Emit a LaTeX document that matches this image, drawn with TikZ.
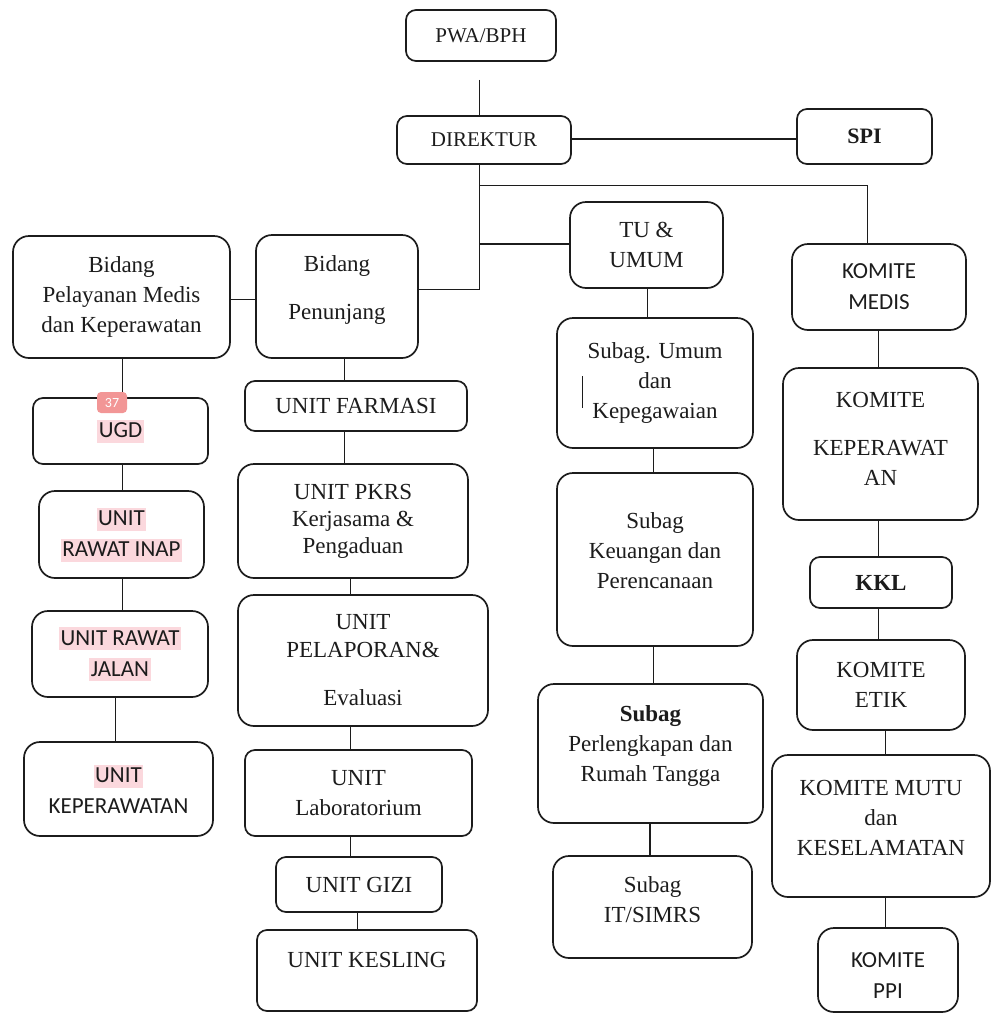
\documentclass[tikz,border=0pt]{standalone}
\usepackage{fontspec}
\setmainfont{Liberation Serif}
\newfontfamily\carlito{Carlito}
\definecolor{hlpink}{RGB}{251,216,221}
\definecolor{badgered}{RGB}{242,150,150}
\definecolor{ink}{RGB}{28,28,28}
\newcommand\hlp[1]{{\setlength\fboxsep{0pt}\colorbox{hlpink}{\rule[-5pt]{0pt}{23pt}\kern1.5pt #1\kern1.5pt}}}
\newcommand\xdp[1]{\rule[-#1]{0pt}{0pt}}
\newcommand\xht[1]{\rule{0pt}{#1}}
\begin{document}
\begin{tikzpicture}[x=1pt,y=-1pt,
  box/.style={draw=ink, line width=1.7pt, rounded corners=16pt, align=center,
    inner sep=0pt, text=ink, font=\fontsize{23}{30}\selectfont},
  sbox/.style={box, rounded corners=10pt},
  sans/.style={font=\carlito\fontsize{23}{31}\selectfont},
  conn/.style={draw=ink, line width=0.9pt},
  tconn/.style={conn, line width=1.7pt},
  badge/.style={fill=badgered, rounded corners=4pt, inner sep=0pt, text=white,
    minimum width=30pt, minimum height=21pt, font=\carlito\fontsize{14}{14}\selectfont}
]
\useasboundingbox (0,0) rectangle (992,1015);

% top
\node[sbox, minimum width=150pt, minimum height=51pt, font=\fontsize{21}{26}\selectfont] (pwa) at (481,35.5) {PWA/BPH};
\node[sbox, minimum width=174pt, minimum height=48pt, font=\fontsize{21}{26}\selectfont] (dir) at (484,140) {DIREKTUR};
\node[sbox, minimum width=135pt, minimum height=55pt, font=\fontsize{22}{26}\selectfont] (spi) at (864.5,136.5) {\textbf{SPI}};
\node[box, minimum width=153pt, minimum height=86pt] (tu) at (646.5,245) {TU \&\\UMUM};

% left column
\node[box, minimum width=217pt, minimum height=122pt] (bpm) at (121.5,297) {Bidang\\Pelayanan Medis\\dan Keperawatan};
\node[sbox, sans, minimum width=175pt, minimum height=66pt] (ugd) at (120.5,431) {\hlp{UGD}};
\node[box, sans, minimum width=165pt, minimum height=87pt] (inap) at (121.5,534.5) {\hlp{UNIT}\\\hlp{RAWAT INAP}};
\node[box, sans, minimum width=176pt, minimum height=86pt] (jalan) at (120,654) {\hlp{UNIT RAWAT}\\\hlp{JALAN}};
\node[box, sans, minimum width=189pt, minimum height=94pt] (kep) at (118.5,789) {\hlp{UNIT}\\KEPERAWATAN};

% middle column
\node[box, minimum width=162pt, minimum height=123pt] (bpn) at (337,296.5) {Bidang\\[18pt]Penunjang\xdp{17pt}};
\node[sbox, minimum width=222pt, minimum height=50pt] (farm) at (356,406) {UNIT FARMASI};
\node[box, minimum width=230pt, minimum height=114pt] (pkrs) at (353,521) {UNIT PKRS\\[-3pt]Kerjasama \&\\[-3pt]Pengaduan};
\node[box, minimum width=250pt, minimum height=131pt] (lap) at (363,660.5) {UNIT\\[-2pt]PELAPORAN\&\\[18pt]Evaluasi};
\node[sbox, minimum width=227pt, minimum height=86pt] (lab) at (358.5,793) {UNIT\\Laboratorium};
\node[sbox, minimum width=166pt, minimum height=55pt] (gizi) at (359,884.5) {UNIT GIZI};
\node[sbox, minimum width=220pt, minimum height=81pt] (kesling) at (367,970.5) {UNIT KESLING\xdp{22pt}};

% centre-right column
\node[box, minimum width=196pt, minimum height=130pt] (sumum) at (655,383) {Subag. Umum\\dan\\Kepegawaian};
\node[box, minimum width=196pt, minimum height=173pt] (keu) at (655,559.5) {Subag\\Keuangan dan\\Perencanaan\xdp{17pt}};
\node[box, minimum width=225pt, minimum height=139pt] (perl) at (650.5,753.5) {\textbf{Subag}\\Perlengkapan dan\\Rumah Tangga\xdp{20pt}};
\node[box, minimum width=199pt, minimum height=102pt] (it) at (652.5,907) {Subag\\IT/SIMRS\xdp{14pt}};

% right column
\node[box, sans, minimum width=174pt, minimum height=86pt] (kmed) at (879,287) {KOMITE\\MEDIS};
\node[box, minimum width=195pt, minimum height=152pt] (kkep) at (880.5,444) {KOMITE\\[18pt]KEPERAWAT\\AN\xdp{11pt}};
\node[sbox, minimum width=142pt, minimum height=51pt] (kkl) at (881,582.5) {\textbf{KKL}};
\node[box, minimum width=168pt, minimum height=90pt] (ketik) at (881,685) {KOMITE\\ETIK};
\node[box, minimum width=218pt, minimum height=142pt] (kmutu) at (881,826) {KOMITE MUTU\\dan\\KESELAMATAN\xdp{16pt}};
\node[box, sans, minimum width=140pt, minimum height=84pt] (kppi) at (888,970) {\xht{25pt}KOMITE\\PPI};

% helper coordinates
\coordinate (tx) at (479,0);
\coordinate (ySPI) at (0,139);
\coordinate (yTop) at (0,185);
\coordinate (yTU) at (0,244);
\coordinate (yBP) at (0,289);
\coordinate (yBB) at (0,299);
\coordinate (xK) at (867,0);
\coordinate (xa) at (122,0);
\coordinate (xb) at (115,0);
\coordinate (xc) at (344,0);
\coordinate (xd) at (350,0);
\coordinate (xe) at (357,0);
\coordinate (xf) at (647,0);
\coordinate (xg) at (653,0);
\coordinate (xh) at (650,0);
\coordinate (xi) at (878,0);
\coordinate (xj) at (885,0);

% connectors top
\draw[conn, shorten <=18pt] (pwa.south -| tx) -- (dir.north -| tx);
\draw[tconn] (dir.east |- ySPI) -- (spi.west |- ySPI);
\draw[conn] (dir.south -| tx) -- (tx |- yBP) -- (bpn.east |- yBP);
\draw[conn] (tx |- yTop) -- (xK |- yTop) -- (kmed.north -| xK);
\draw[tconn] (tx |- yTU) -- (tu.west |- yTU);
\draw[conn] (bpm.east |- yBB) -- (bpn.west |- yBB);

% left chain
\draw[conn] (bpm.south -| xa) -- (ugd.north -| xa);
\draw[conn] (ugd.south -| xa) -- (inap.north -| xa);
\draw[conn] (inap.south -| xa) -- (jalan.north -| xa);
\draw[conn] (jalan.south -| xb) -- (kep.north -| xb);

% middle chain
\draw[conn] (bpn.south -| xc) -- (farm.north -| xc);
\draw[conn] (farm.south -| xc) -- (pkrs.north -| xc);
\draw[conn] (pkrs.south -| xd) -- (lap.north -| xd);
\draw[conn] (lap.south -| xd) -- (lab.north -| xd);
\draw[conn] (lab.south -| xd) -- (gizi.north -| xd);
\draw[conn] (gizi.south -| xe) -- (kesling.north -| xe);

% centre-right chain
\draw[conn] (tu.south -| xf) -- (sumum.north -| xf);
\draw[conn] (sumum.south -| xg) -- (keu.north -| xg);
\draw[conn] (keu.south -| xg) -- (perl.north -| xg);
\draw[tconn] (perl.south -| xh) -- (it.north -| xh);

% right chain
\draw[conn] (kmed.south -| xi) -- (kkep.north -| xi);
\draw[conn] (kkep.south -| xi) -- (kkl.north -| xi);
\draw[conn] (kkl.south -| xi) -- (ketik.north -| xi);
\draw[conn] (ketik.south -| xj) -- (kmutu.north -| xj);
\draw[conn] (kmutu.south -| xj) -- (kppi.north -| xj);

% stray marks
\node[badge] (b37) at (112,402.5) {37};
\draw[ink, line width=0.8pt] (582,376) -- (582,408);
\end{tikzpicture}
\end{document}
